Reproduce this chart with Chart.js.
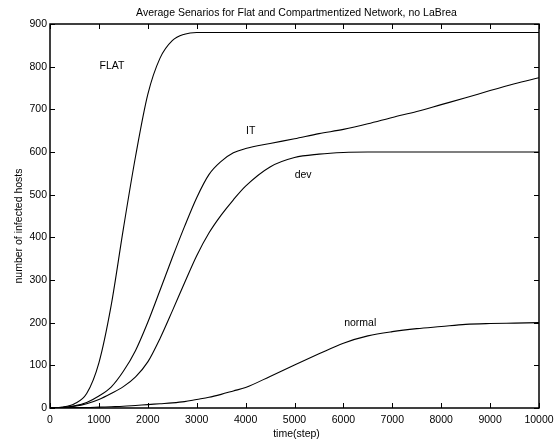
<!DOCTYPE html>
<html><head><meta charset="utf-8">
<script src="https://cdn.jsdelivr.net/npm/chart.js@4"></script>
<style>html,body{margin:0;padding:0;background:#fff}canvas{display:block}</style>
</head><body>
<canvas id="c" width="557" height="439"></canvas>
<script>
const chartTitle = "Average Senarios for Flat and Compartmentized Network, no LaBrea";
const xAxisTitle = "time(step)";
const yAxisTitle = "number of infected hosts";

const timeSteps = [0,250,500,750,1000,1250,1500,1750,2000,2250,2500,2750,3000,3250,3500,3750,4000,4500,5000,5500,6000,6500,7000,7500,8000,8500,9000,9500,10000];
const flatValues   = [0,2,10,34,106,240,420,590,735,820,861,876,880,880,880,880,880,880,880,880,880,880,880,880,880,880,880,880,880];
const itValues     = [0,1,5,13,28,49,86,135,201,276,352,425,493,547,578,598,608,620,631,643,653,666,681,695,711,727,744,760,774];
const devValues    = [0,1,4,10,20,34,50,73,108,163,227,293,357,410,452,488,520,565,587,595,599,600,600,600,600,600,600,600,600];
const normalValues = [0,0,1,1,2,3,4,6,8,10,12,15,20,25,32,40,48,74,101,127,152,169,179,186,191,196,198,199,200];

const seriesNames  = ["FLAT","IT","dev","normal"];
const labelTimes   = [1269,4103,5177,6343];
const labelValues  = [802,650,546,198];

const xTickValues = [0,1000,2000,3000,4000,5000,6000,7000,8000,9000,10000];
const yTickValues = [0,100,200,300,400,500,600,700,800,900];

const FONT = "Liberation Sans, Arial, Helvetica, sans-serif";
const FS = 10.5;

function pts(vals){ return timeSteps.map((t,i)=>({x:t,y:vals[i]})); }

const framePlugin = {
  id:'frame',
  afterDraw(chart){
    const ctx = chart.ctx, a = chart.chartArea;
    const xs = chart.scales.x, ys = chart.scales.y;
    ctx.save();
    ctx.strokeStyle = '#000';
    ctx.lineWidth = 1.5;
    ctx.strokeRect(a.left, a.top, a.right-a.left, a.bottom-a.top);
    ctx.lineWidth = 1;
    ctx.beginPath();
    const tl = 5;
    xTickValues.forEach(v=>{
      const px = Math.round(xs.getPixelForValue(v))+0.5;
      ctx.moveTo(px,a.bottom); ctx.lineTo(px,a.bottom-tl);
      ctx.moveTo(px,a.top); ctx.lineTo(px,a.top+tl);
    });
    yTickValues.forEach(v=>{
      const py = Math.round(ys.getPixelForValue(v))+0.5;
      ctx.moveTo(a.left,py); ctx.lineTo(a.left+tl,py);
      ctx.moveTo(a.right,py); ctx.lineTo(a.right-tl,py);
    });
    ctx.stroke();
    ctx.fillStyle = '#000';
    ctx.font = FS + 'px ' + FONT;
    ctx.textAlign = 'center';
    ctx.textBaseline = 'middle';
    seriesNames.forEach((n,i)=>{
      ctx.fillText(n, xs.getPixelForValue(labelTimes[i]), ys.getPixelForValue(labelValues[i]));
    });
    const cx = (a.left + a.right)/2 + 2;
    ctx.fillText(chartTitle, cx, 13.5);
    ctx.fillText(xAxisTitle, cx, 434);
    ctx.save();
    ctx.translate(19, 226);
    ctx.rotate(-Math.PI/2);
    ctx.fillText(yAxisTitle, 0, 0);
    ctx.restore();
    ctx.restore();
  }
};

const tickFont = {family: FONT, size: FS};

new Chart(document.getElementById('c'), {
  type: 'line',
  data: {
    datasets: [
      {label: seriesNames[0], data: pts(flatValues)},
      {label: seriesNames[1], data: pts(itValues)},
      {label: seriesNames[2], data: pts(devValues)},
      {label: seriesNames[3], data: pts(normalValues)}
    ]
  },
  options: {
    responsive: false,
    animation: false,
    devicePixelRatio: 1,
    layout: {padding: {left: 0, right: 18, top: 24, bottom: 0}},
    elements: {
      point: {radius: 0},
      line: {borderWidth: 1.1, borderColor: '#000', fill: false, cubicInterpolationMode: 'monotone'}
    },
    plugins: {legend: {display: false}, tooltip: {enabled: false}, title: {display: false}},
    scales: {
      x: {
        type: 'linear', min: 0, max: 10000,
        afterBuildTicks(s){ s.ticks = xTickValues.map(v=>({value:v})); },
        ticks: {color: '#000', font: tickFont, padding: 6, maxRotation: 0, autoSkip: false, callback: v => String(v)},
        grid: {display: false, drawTicks: false},
        border: {display: false},
        afterFit(s){ s.height = 31; s.paddingLeft = 0; s.paddingRight = 0; }
      },
      y: {
        type: 'linear', min: 0, max: 900,
        afterBuildTicks(s){ s.ticks = yTickValues.map(v=>({value:v})); },
        ticks: {color: '#000', font: tickFont, padding: 3, callback: v => String(v)},
        grid: {display: false, drawTicks: false},
        border: {display: false},
        afterFit(s){ s.width = 50; s.paddingTop = 0; s.paddingBottom = 0; }
      }
    }
  },
  plugins: [framePlugin]
});
</script>
</body></html>
